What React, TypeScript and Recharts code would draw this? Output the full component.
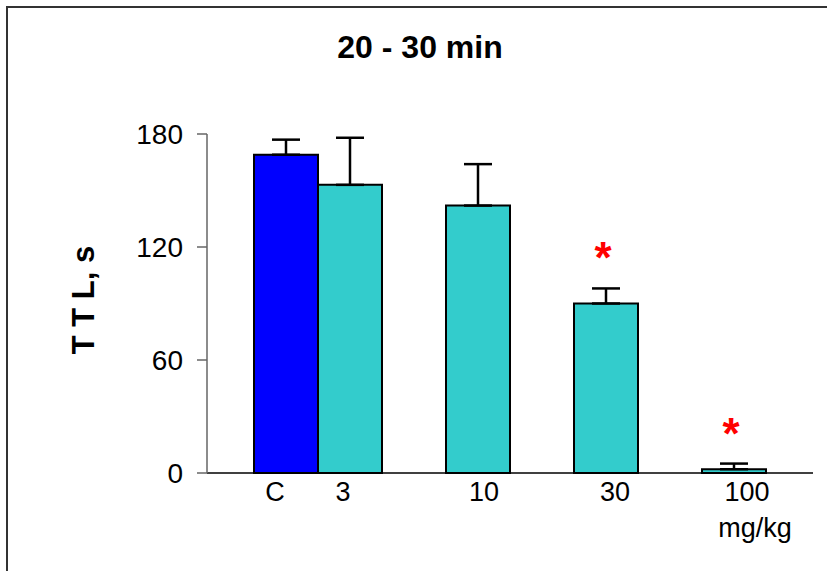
import React from "react";
import {
  ComposedChart,
  Bar,
  Cell,
  ErrorBar,
  Scatter,
  XAxis,
  YAxis,
} from "recharts";

// dose groups; empty strings are the gaps between groups
const categories = ["C", "3", "", "10", "", "30", "", "100"];
const means = [169, 153, null, 142, null, 90, null, 2];
const sems = [8, 25, null, 22, null, 8, null, 3];
const significant = [false, false, false, false, false, true, false, true];
const yTicks = [0, 60, 120, 180];

const CONTROL = "#0000FF";
const DRUG = "#33CCCC";
const FONT = "'Liberation Sans', Arial, sans-serif";

// the original labels sit a little off the bar centres
const labelShift: Record<string, number> = { C: -11, "3": -7, "10": 6, "30": 9, "100": 13 };

const data = categories.map((name, i) => ({
  name,
  mean: means[i],
  err: sems[i] == null ? null : [0, sems[i]],
  star: significant[i] && means[i] != null && sems[i] != null ? means[i] + sems[i] : null,
}));

const XTick = (props: any) => {
  const { x, y, payload } = props;
  if (!payload.value) return <g />;
  const tx = x + (labelShift[payload.value] || 0);
  return (
    <text x={tx} y={y} textAnchor="middle" fontFamily={FONT} fontSize={27} fill="#000">
      <tspan x={tx} dy={28}>{payload.value}</tspan>
      {payload.value === "100" && (
        <tspan x={tx + 8} dy={36}>mg/kg</tspan>
      )}
    </text>
  );
};

const YTick = (props: any) => {
  const { x, y, payload } = props;
  return (
    <text x={x} y={y} dy={10} textAnchor="end" fontFamily={FONT} fontSize={28} fill="#000">
      {payload.value}
    </text>
  );
};

const Star = (props: any) => {
  const { cx, cy, payload } = props;
  if (payload.star == null || !Number.isFinite(cy)) return <g />;
  return (
    <text x={cx - 3} y={cy - 15} textAnchor="middle" fontFamily={FONT} fontSize={44} fontWeight="bold" fill="#FF0000">
      *
    </text>
  );
};

export default function App() {
  return (
    <div style={{ position: "absolute", left: 0, top: 0, width: 827, height: 571, overflow: "hidden", background: "#fff" }}>
      <div
        style={{
          position: "absolute",
          left: 6,
          top: 6,
          width: 900,
          height: 700,
          border: "2px solid #333",
        }}
      />
      <div
        style={{
          position: "absolute",
          left: 0,
          top: 31,
          width: 840,
          textAlign: "center",
          fontFamily: FONT,
          fontWeight: "bold",
          fontSize: 32,
          lineHeight: "32px",
        }}
      >
        20 - 30 min
      </div>
      <div style={{ position: "absolute", left: 0, top: 0 }}>
        <ComposedChart
          width={827}
          height={571}
          data={data}
          margin={{ top: 134, right: 14, bottom: 68, left: 0 }}
          barCategoryGap={0}
          barGap={0}
        >
          <XAxis
            dataKey="name"
            height={30}
            padding={{ left: 47, right: 47 }}
            axisLine={{ stroke: "#000", strokeWidth: 1.5 }}
            tickLine={false}
            tickSize={0}
            tickMargin={0}
            interval={0}
            tick={<XTick />}
          />
          <YAxis
            width={207}
            domain={[0, 180]}
            ticks={yTicks}
            axisLine={{ stroke: "#666", strokeWidth: 1.5 }}
            tickLine={{ stroke: "#666", strokeWidth: 1.5 }}
            tickSize={10}
            tickMargin={14}
            tick={<YTick />}
            label={{
              content: () => (
                <text
                  x={94}
                  y={300}
                  transform="rotate(-90, 94, 300)"
                  textAnchor="middle"
                  fontFamily={FONT}
                  fontWeight="bold"
                  fontSize={31}
                  fill="#000"
                >
                  T T L, s
                </text>
              ),
            }}
          />
          <Bar dataKey="mean" stroke="#000" strokeWidth={2} isAnimationActive={false}>
            {data.map((d, i) => (
              <Cell key={i} fill={d.name === "C" ? CONTROL : DRUG} />
            ))}
            <ErrorBar dataKey="err" direction="y" width={14} stroke="#000" strokeWidth={2.5} />
          </Bar>
          <Scatter dataKey="star" isAnimationActive={false} shape={<Star />} />
        </ComposedChart>
      </div>
    </div>
  );
}
